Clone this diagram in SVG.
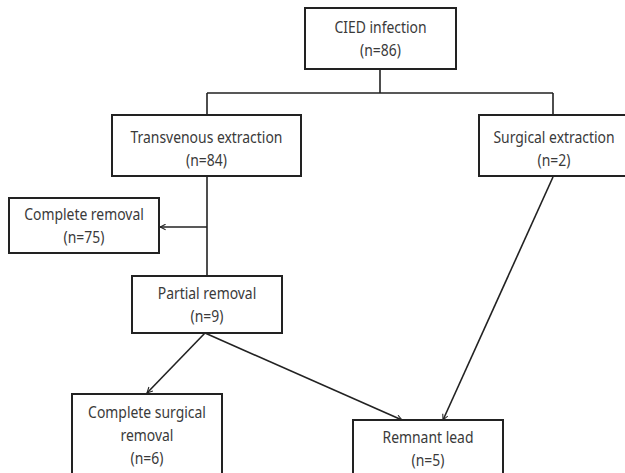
<svg xmlns="http://www.w3.org/2000/svg" width="625" height="473" viewBox="0 0 625 473">
<defs>
<marker id="arr" viewBox="0 0 10 10" refX="9" refY="5" markerWidth="7" markerHeight="7" orient="auto" markerUnits="userSpaceOnUse">
<path d="M1,1 L9,5 L1,9" fill="none" stroke="#222" stroke-width="1.5"/>
</marker>
<style>
.box{fill:#fff;stroke:#222;stroke-width:2}
.t{font-family:"Noto Sans","Open Sans",sans-serif;font-size:16px;fill:#3a3a3a;text-anchor:middle;transform-box:fill-box;transform-origin:center;transform:scaleX(0.87)}
.c{fill:none;stroke:#222;stroke-width:1.6}
</style>
</defs>
<rect width="625" height="473" fill="#fff"/>
<g id="connectors">
<path class="c" d="M380,69 V93 M207,93 H553 M207,93 V115 M553,93 V115"/>
<path class="c" d="M207,176 V276"/>
<path class="c" d="M207,227 H160" marker-end="url(#arr)"/>
<path class="c" d="M205,333 L147,393" marker-end="url(#arr)"/>
<path class="c" d="M205,333 L402,420" marker-end="url(#arr)"/>
<path class="c" d="M553,177 L443,420" marker-end="url(#arr)"/>
</g>
<g id="cied"><rect class="box" x="305" y="8" width="151" height="61"/><text class="t" x="380.5" y="33">CIED infection</text><text class="t" x="380.5" y="56">(n=86)</text></g>
<g id="transvenous"><rect class="box" x="112" y="115" width="189" height="61"/><text class="t" x="206.5" y="143">Transvenous extraction</text><text class="t" x="206.5" y="166">(n=84)</text></g>
<g id="surgical"><rect class="box" x="479" y="115" width="151" height="61"/><text class="t" x="554" y="143">Surgical extraction</text><text class="t" x="554" y="166">(n=2)</text></g>
<g id="complete"><rect class="box" x="9" y="198" width="150" height="55"/><text class="t" x="84" y="220">Complete removal</text><text class="t" x="84" y="243">(n=75)</text></g>
<g id="partial"><rect class="box" x="132" y="276" width="150" height="57"/><text class="t" x="207" y="299">Partial removal</text><text class="t" x="207" y="322">(n=9)</text></g>
<g id="compsurg"><rect class="box" x="72" y="394" width="150" height="90"/><text class="t" x="147" y="418">Complete surgical</text><text class="t" x="147" y="441">removal</text><text class="t" x="147" y="464">(n=6)</text></g>
<g id="remnant"><rect class="box" x="353" y="420" width="150" height="64"/><text class="t" x="428" y="443">Remnant lead</text><text class="t" x="428" y="466">(n=5)</text></g>
</svg>
